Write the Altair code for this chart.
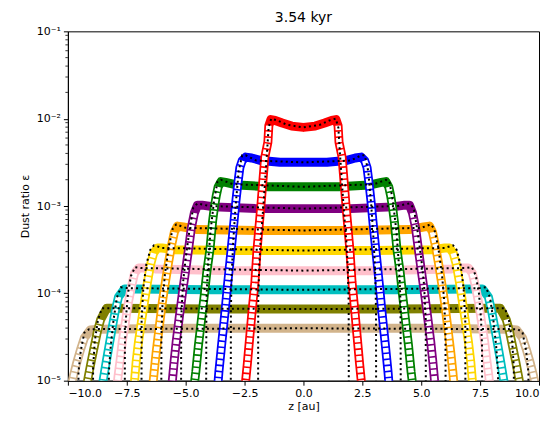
import altair as alt
import pandas as pd

# ---------------- axis ticks ----------------
X_TICKS = [-10, -7.5, -5, -2.5, 0, 2.5, 5, 7.5, 10]
Y_TICKS = [1e-5, 1e-4, 1e-3, 1e-2, 1e-1]
Y_TICK_LABELS = ["10⁻⁵", "10⁻⁴", "10⁻³", "10⁻²", "10⁻¹"]
Y_MINOR = [2e-5, 3e-5, 4e-5, 5e-5, 6e-5, 7e-5, 8e-5, 9e-5,
           2e-4, 3e-4, 4e-4, 5e-4, 6e-4, 7e-4, 8e-4, 9e-4,
           2e-3, 3e-3, 4e-3, 5e-3, 6e-3, 7e-3, 8e-3, 9e-3,
           2e-2, 3e-2, 4e-2, 5e-2, 6e-2, 7e-2, 8e-2, 9e-2]

SPECIES = ["tan", "olive", "cyan", "pink", "gold", "orange", "purple", "green", "blue", "red"]
COLORS = {"red": "#ff0000", "blue": "#0000ff", "green": "#008000", "purple": "#800080",
          "orange": "#ffa500", "gold": "#ffd700", "pink": "#ffc0cb", "cyan": "#00bfbf",
          "olive": "#808000", "tan": "#d2b48c"}

# ------------- simulated profiles (right half, log10 epsilon) -------------
red_plateau_z = [0.0, 0.5, 0.9, 1.2, 1.38]
red_plateau_log = [-2.10, -2.085, -2.05, -2.02, -2.01]
red_drop_z = [1.47, 1.51, 1.64, 1.81, 1.97, 2.06, 2.18, 2.28, 2.38, 2.49]
red_drop_log = [-2.08, -2.27, -2.44, -3.01, -3.50, -3.87, -4.20, -4.50, -4.80, -5.10]

blue_plateau_z = [0.0, 1.0, 1.8, 2.2, 2.45]
blue_plateau_log = [-2.50, -2.50, -2.48, -2.45, -2.44]
blue_drop_z = [2.60, 2.70, 2.78, 2.87, 2.95, 3.08, 3.21, 3.33, 3.46, 3.59, 3.65]
blue_drop_log = [-2.48, -2.56, -2.73, -2.95, -3.18, -3.53, -3.87, -4.21, -4.55, -4.90, -5.10]

green_plateau_z = [0.0, 1.5, 2.8, 3.3, 3.5]
green_plateau_log = [-2.78, -2.78, -2.76, -2.73, -2.72]
green_drop_z = [3.62, 3.70, 3.78, 3.86, 3.97, 4.10, 4.20, 4.33, 4.46, 4.57, 4.66]
green_drop_log = [-2.78, -2.88, -3.01, -3.18, -3.50, -3.75, -4.00, -4.30, -4.60, -4.90, -5.10]

purple_plateau_z = [0.0, 2.0, 3.8, 4.3, 4.5]
purple_plateau_log = [-3.03, -3.03, -3.01, -2.99, -2.99]
purple_drop_z = [4.63, 4.76, 4.88, 5.01, 5.14, 5.27, 5.40, 5.49, 5.60]
purple_drop_log = [-3.08, -3.25, -3.50, -3.75, -4.00, -4.27, -4.55, -4.78, -5.10]

orange_plateau_z = [0.0, 2.0, 4.5, 5.1, 5.35]
orange_plateau_log = [-3.28, -3.28, -3.27, -3.24, -3.23]
orange_drop_z = [5.48, 5.60, 5.73, 5.86, 5.99, 6.12, 6.25, 6.34, 6.41]
orange_drop_log = [-3.30, -3.45, -3.65, -3.87, -4.10, -4.38, -4.67, -4.90, -5.10]

gold_plateau_z = [0.0, 3.0, 5.5, 6.0, 6.2]
gold_plateau_log = [-3.51, -3.51, -3.50, -3.48, -3.48]
gold_drop_z = [6.36, 6.49, 6.62, 6.75, 6.88, 7.00, 7.10, 7.20]
gold_drop_log = [-3.54, -3.67, -3.87, -4.10, -4.33, -4.55, -4.78, -5.10]

pink_plateau_z = [0.0, 3.0, 6.3, 6.8, 7.0]
pink_plateau_log = [-3.74, -3.74, -3.72, -3.71, -3.71]
pink_drop_z = [7.17, 7.30, 7.43, 7.56, 7.69, 7.78, 7.87, 7.93]
pink_drop_log = [-3.77, -3.92, -4.10, -4.33, -4.55, -4.76, -4.95, -5.10]

cyan_plateau_z = [0.0, 4.0, 7.2, 7.6]
cyan_plateau_log = [-3.96, -3.96, -3.95, -3.95]
cyan_drop_z = [7.85, 7.98, 8.11, 8.24, 8.37, 8.50, 8.56]
cyan_drop_log = [-4.04, -4.19, -4.38, -4.58, -4.78, -4.99, -5.10]

olive_plateau_z = [0.0, 4.0, 8.0, 8.35]
olive_plateau_log = [-4.18, -4.18, -4.17, -4.17]
olive_drop_z = [8.61, 8.75, 8.88, 9.01, 9.13, 9.23]
olive_drop_log = [-4.30, -4.44, -4.61, -4.78, -4.95, -5.10]

tan_plateau_z = [0.0, 5.0, 8.7, 9.05]
tan_plateau_log = [-4.40, -4.40, -4.41, -4.42]
tan_drop_z = [9.30, 9.47, 9.64, 9.77, 9.88]
tan_drop_log = [-4.51, -4.65, -4.81, -4.95, -5.10]

# ------------- reference (dotted) profiles (right half, log10 epsilon) -------------
red_exact_z = [0.0, 0.7, 1.1, 1.37, 1.48, 1.55, 1.65, 1.73, 1.82, 1.88, 1.92, 1.93]
red_exact_log = [-2.10, -2.07, -2.02, -2.00, -2.10, -2.40, -2.80, -3.10, -3.40, -3.70, -4.10, -6.0]
blue_exact_z = [0.0, 2.0, 2.45, 2.60, 2.75, 2.88, 2.98, 3.05, 3.08, 3.09]
blue_exact_log = [-2.50, -2.48, -2.42, -2.42, -2.60, -3.00, -3.40, -3.80, -4.20, -6.0]
green_exact_z = [0.0, 3.0, 3.5, 3.65, 3.80, 3.95, 4.06, 4.12, 4.14]
green_exact_log = [-2.78, -2.75, -2.70, -2.72, -2.95, -3.30, -3.70, -4.10, -6.0]
purple_exact_z = [0.0, 4.0, 4.5, 4.68, 4.85, 5.00, 5.12, 5.19, 5.20]
purple_exact_log = [-3.03, -3.00, -2.97, -3.02, -3.30, -3.60, -3.90, -4.30, -6.0]
orange_exact_z = [0.0, 5.0, 5.4, 5.55, 5.72, 5.88, 5.98, 6.03, 6.04]
orange_exact_log = [-3.28, -3.25, -3.21, -3.26, -3.47, -3.78, -4.10, -4.50, -6.0]
gold_exact_z = [0.0, 6.0, 6.35, 6.50, 6.68, 6.80, 6.87, 6.88]
gold_exact_log = [-3.51, -3.48, -3.45, -3.50, -3.68, -3.95, -4.30, -6.0]
pink_exact_z = [0.0, 6.9, 7.15, 7.32, 7.45, 7.54, 7.58, 7.59]
pink_exact_log = [-3.74, -3.71, -3.70, -3.80, -4.00, -4.30, -4.60, -6.0]
cyan_exact_z = [0.0, 7.5, 7.75, 7.92, 8.06, 8.18, 8.26, 8.27]
cyan_exact_log = [-3.96, -3.94, -3.93, -4.05, -4.30, -4.60, -4.90, -6.0]
olive_exact_z = [0.0, 8.3, 8.55, 8.72, 8.86, 8.93, 8.94]
olive_exact_log = [-4.18, -4.17, -4.17, -4.30, -4.55, -4.85, -6.0]
tan_exact_z = [0.0, 9.1, 9.30, 9.45, 9.55, 9.56]
tan_exact_log = [-4.40, -4.41, -4.45, -4.65, -4.90, -6.0]

PROFILES = {
    "red": (red_plateau_z, red_plateau_log, red_drop_z, red_drop_log, red_exact_z, red_exact_log),
    "blue": (blue_plateau_z, blue_plateau_log, blue_drop_z, blue_drop_log, blue_exact_z, blue_exact_log),
    "green": (green_plateau_z, green_plateau_log, green_drop_z, green_drop_log, green_exact_z, green_exact_log),
    "purple": (purple_plateau_z, purple_plateau_log, purple_drop_z, purple_drop_log, purple_exact_z, purple_exact_log),
    "orange": (orange_plateau_z, orange_plateau_log, orange_drop_z, orange_drop_log, orange_exact_z, orange_exact_log),
    "gold": (gold_plateau_z, gold_plateau_log, gold_drop_z, gold_drop_log, gold_exact_z, gold_exact_log),
    "pink": (pink_plateau_z, pink_plateau_log, pink_drop_z, pink_drop_log, pink_exact_z, pink_exact_log),
    "cyan": (cyan_plateau_z, cyan_plateau_log, cyan_drop_z, cyan_drop_log, cyan_exact_z, cyan_exact_log),
    "olive": (olive_plateau_z, olive_plateau_log, olive_drop_z, olive_drop_log, olive_exact_z, olive_exact_log),
    "tan": (tan_plateau_z, tan_plateau_log, tan_drop_z, tan_drop_log, tan_exact_z, tan_exact_log),
}


def mirror(zs, logs):
    """Return the symmetric full profile (left half mirrored from the right half)."""
    right = list(zip(zs, logs))
    left = [(-z, l) for z, l in reversed(right) if z > 0]
    full = left + right
    return pd.DataFrame({"z": [p[0] for p in full],
                         "eps": [10 ** p[1] for p in full],
                         "o": list(range(len(full)))})


def drops(zs, logs):
    rows = []
    for side, sgn in (("L", -1), ("R", 1)):
        for i, (z, l) in enumerate(zip(zs, logs)):
            rows.append({"z": sgn * z, "eps": 10 ** l, "o": i, "side": side})
    return pd.DataFrame(rows)


XSC = alt.Scale(domain=[-10, 10], nice=False, zero=False)
YSC = alt.Scale(type="log", domain=[1e-5, 1e-1], nice=False)

label_expr = " : ".join(
    f"datum.value < {v * 3:.1e} ? '{lab}'" for v, lab in zip(Y_TICKS[:-1], Y_TICK_LABELS[:-1])
) + f" : '{Y_TICK_LABELS[-1]}'"

X_AXIS = alt.Axis(values=X_TICKS, title="z [au]",
                  labelExpr="replace(format(datum.value, '.1f'), '-', '\u2212')",
                  grid=False, tickSize=4.5, labelPadding=2, titlePadding=2)
Y_AXIS = alt.Axis(values=Y_TICKS, title="Dust ratio \u03b5", labelExpr=label_expr,
                  grid=False, tickSize=4.5, labelPadding=3, titlePadding=6)


def xenc():
    return alt.X("z:Q", scale=XSC, axis=X_AXIS)


def yenc():
    return alt.Y("eps:Q", scale=YSC, axis=Y_AXIS)


layers = []
for sp in SPECIES:
    pz, pl, dz, dl, ez, el = PROFILES[sp]
    band = mirror(pz + dz, pl + dl)
    layers.append(
        alt.Chart(band).mark_line(color=COLORS[sp], strokeWidth=9, clip=True,
                                  strokeJoin="round", strokeCap="butt")
        .encode(x=xenc(), y=yenc(), order="o:Q")
    )
    layers.append(
        alt.Chart(drops(dz, dl)).mark_line(color="white", strokeWidth=5.5, clip=True,
                                           strokeDash=[4.5, 1.6], strokeCap="butt")
        .encode(x=xenc(), y=yenc(), order="o:Q", detail="side:N")
    )

for sp in SPECIES:
    pz, pl, dz, dl, ez, el = PROFILES[sp]
    layers.append(
        alt.Chart(mirror(ez, el)).mark_line(color="black", strokeWidth=2, clip=True,
                                            strokeDash=[2, 3.2], strokeCap="butt")
        .encode(x=xenc(), y=yenc(), order="o:Q")
    )

# minor ticks of the log axis
minor = pd.DataFrame({"eps": Y_MINOR})
layers.append(
    alt.Chart(minor).mark_rule(color="black", strokeWidth=0.8, clip=False)
    .encode(y=yenc(), x=alt.value(-2.5), x2=alt.value(0))
)

chart = alt.layer(*layers).properties(
    width=472, height=350,
    title=alt.TitleParams("3.54 kyr", fontSize=14, fontWeight="normal", font="DejaVu Sans",
                          color="black", offset=0),
    padding={"left": 11, "top": 3, "right": 7, "bottom": 5},
).configure_view(stroke="black", strokeWidth=1).configure_axis(
    labelFont="DejaVu Sans", titleFont="DejaVu Sans", labelFontSize=11, titleFontSize=11,
    titleFontWeight="normal", labelColor="black", titleColor="black",
    domainColor="black", tickColor="black", domainWidth=1, tickWidth=1,
)

chart.save("out.html", embed_options={"renderer": "svg", "actions": False})
